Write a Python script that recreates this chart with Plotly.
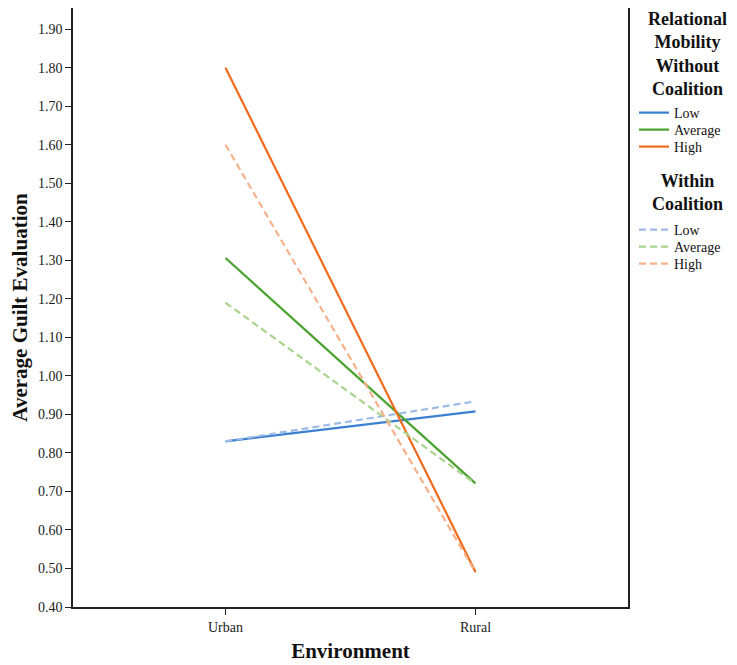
import plotly.graph_objects as go

environments = ["Urban", "Rural"]
levels = ["Low", "Average", "High"]

# average guilt evaluation
without_coalition = {
    "Low": [0.83, 0.908],
    "Average": [1.306, 0.721],
    "High": [1.80, 0.491],
}
within_coalition = {
    "Low": [0.83, 0.934],
    "Average": [1.19, 0.72],
    "High": [1.60, 0.49],
}

solid_colors = {"Low": "#3a7fd0", "Average": "#4aa22e", "High": "#f06b1c"}
dash_colors = {"Low": "#9ebbe8", "Average": "#a8d48e", "High": "#f6b08a"}

font_family = "Liberation Serif, Times New Roman, serif"

# the page body keeps its default 8px margin, so the figure is 8px smaller
fig_w, fig_h = 729, 657
plot_left, plot_right, plot_top, plot_bottom = 65, 620, 0, 599
def px_x(px):
    return (px - 8 - plot_left) / (plot_right - plot_left)
def px_y(py):
    return (plot_bottom - (py - 8)) / (plot_bottom - plot_top)

fig = go.Figure()

legend_rows = [113, 130, 147, 230, 247, 264]
legend_names = ["legend", "legend2", "legend3", "legend4", "legend5", "legend6"]

k = 0
for lev in levels:
    fig.add_trace(go.Scatter(
        x=environments, y=without_coalition[lev], mode="lines", name=lev, showlegend=True,
        line=dict(color=solid_colors[lev], width=2.2), legend=legend_names[k]))
    k += 1

for lev in levels:
    fig.add_trace(go.Scatter(
        x=environments, y=within_coalition[lev], mode="lines", name=lev, showlegend=True,
        line=dict(color=dash_colors[lev], width=2.2, dash="7px,4px"), legend=legend_names[k]))
    k += 1

fig.update_xaxes(
    type="category", range=[-0.61, 1.61], automargin=False,
    showline=True, linecolor="#222", linewidth=1.5, mirror=True,
    ticks="outside", ticklen=6, tickcolor="#222",
    showgrid=False, zeroline=False,
    tickfont=dict(family=font_family, size=14, color="#222"),
    title=dict(text="<b>Environment</b>", font=dict(family=font_family, size=21, color="#111"), standoff=10),
)
fig.update_yaxes(
    range=[0.4, 1.955], tickvals=[0.4 + 0.1 * i for i in range(16)], tickformat=".2f", automargin=False,
    showline=True, linecolor="#222", linewidth=1.5, mirror=True,
    ticks="outside", ticklen=6, tickcolor="#222",
    showgrid=False, zeroline=False,
    tickfont=dict(family=font_family, size=14, color="#222"),
    title=dict(text="<b>Average Guilt Evaluation</b>", font=dict(family=font_family, size=21, color="#111"), standoff=12),
)

layout_legends = {}
for name, row in zip(legend_names, legend_rows):
    layout_legends[name] = dict(
        x=px_x(634), y=px_y(row), xanchor="left", yanchor="middle",
        font=dict(family=font_family, size=14, color="#111"), itemwidth=30,
        bgcolor="rgba(0,0,0,0)",
    )

fig.update_layout(
    width=fig_w, height=fig_h, showlegend=True,
    margin=dict(l=plot_left, r=fig_w - plot_right, t=plot_top, b=fig_h - plot_bottom),
    plot_bgcolor="white", paper_bgcolor="white",
    font=dict(family=font_family, color="#111"),
    **layout_legends,
)

fig.add_annotation(
    x=px_x(687), y=px_y(54), xref="paper", yref="paper", showarrow=False,
    xanchor="center", yanchor="middle",
    text="<b>Relational<br>Mobility<br>Without<br>Coalition</b>", align="center",
    font=dict(family=font_family, size=18, color="#111"),
)
fig.add_annotation(
    x=px_x(687), y=px_y(192), xref="paper", yref="paper", showarrow=False,
    xanchor="center", yanchor="middle",
    text="<b>Within<br>Coalition</b>", align="center",
    font=dict(family=font_family, size=18, color="#111"),
)

fig.write_html("out.html")
